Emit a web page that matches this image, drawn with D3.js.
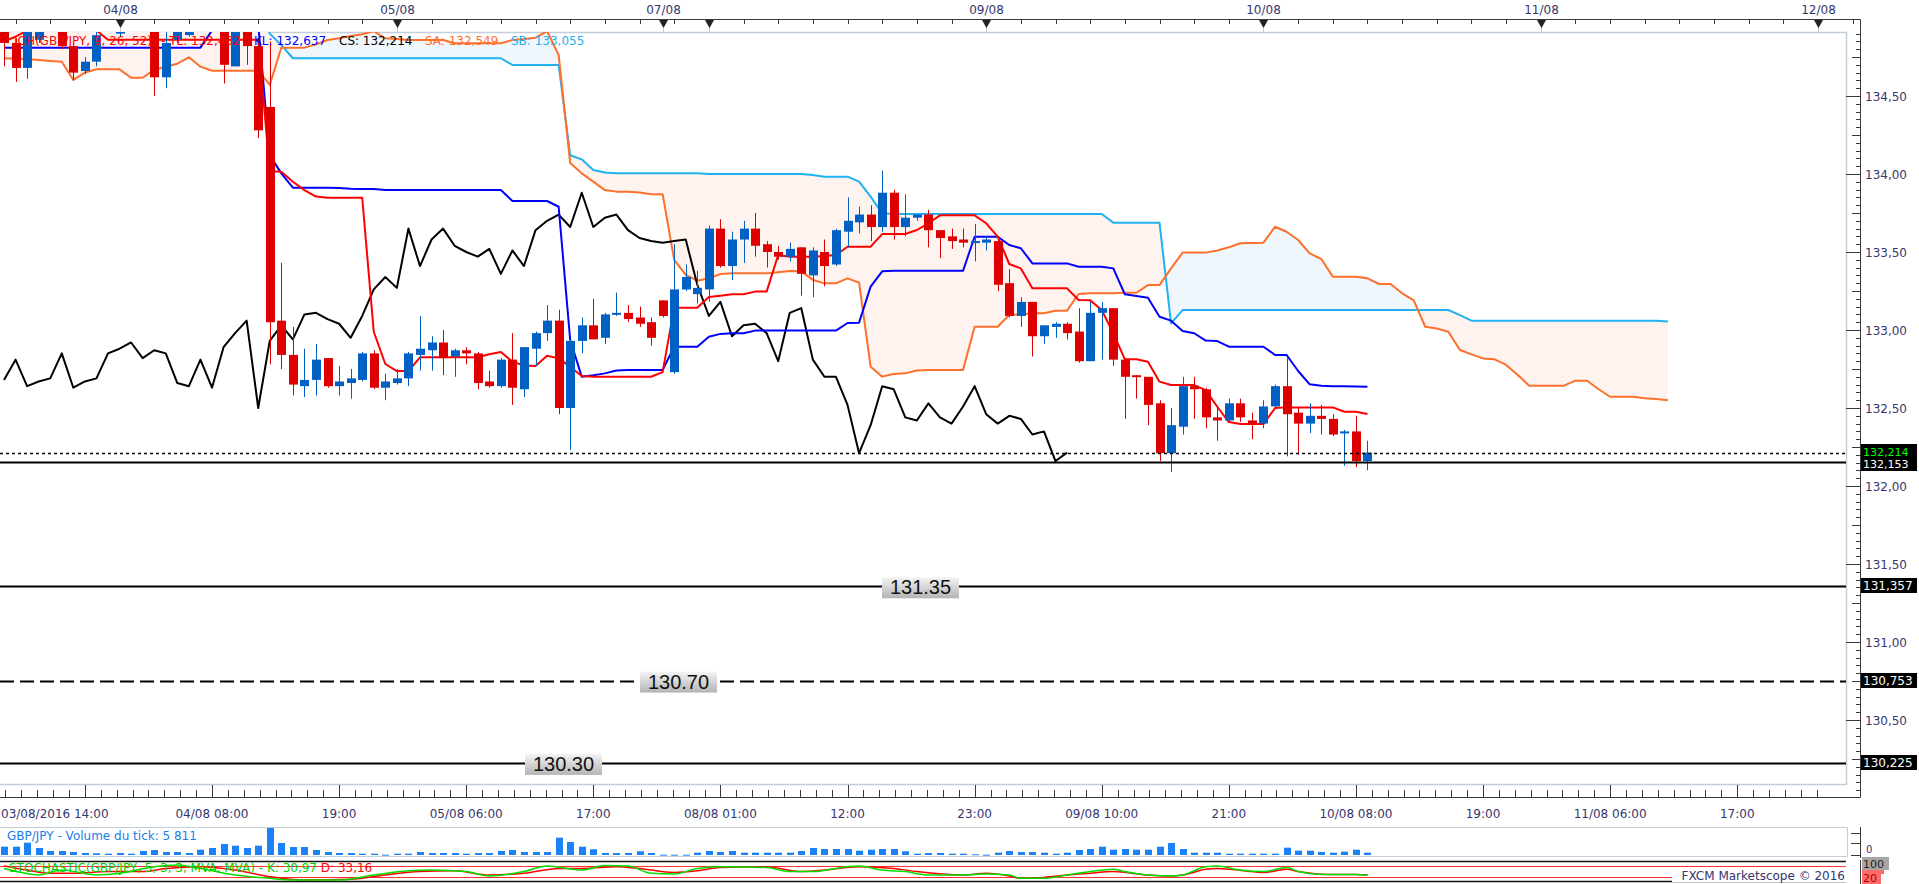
<!DOCTYPE html>
<html>
<head>
<meta charset="utf-8">
<script src="https://cdn.jsdelivr.net/npm/d3@7"></script>
<style>
  body { margin: 0; background: #fff; overflow: hidden; }
  svg { display: block; font-family: "DejaVu Sans", Verdana, sans-serif; }
</style>
</head>
<body>
<svg></svg>
<script>
// ---------- data (hourly GBP/JPY, bar index 0 = 03/08/2016 14:00) ----------
const opens = [134.95,134.84,134.68,134.86,134.95,134.96,134.82,134.66,134.72,134.93,134.90,134.96,134.99,134.97,134.62,134.86,134.89,134.95,134.98,134.94,
  134.69,134.93,134.82,134.43,133.06,132.84,132.64,132.68,132.82,132.64,132.66,132.68,132.85,132.63,132.66,132.69,132.84,132.87,132.92,132.83,
  132.87,132.85,132.67,132.64,132.81,132.62,132.88,132.98,133.06,132.50,132.93,133.03,132.95,133.10,133.11,133.08,133.05,133.19,132.73,133.26,
  133.23,133.26,133.65,133.41,133.58,133.65,133.55,133.50,133.47,133.53,133.35,133.50,133.42,133.63,133.69,133.74,133.66,133.88,133.66,133.72,
  133.74,133.64,133.60,133.58,133.56,133.56,133.57,133.30,133.09,133.18,132.96,133.02,133.04,132.99,132.80,133.11,133.14,132.81,132.71,132.70,
  132.53,132.21,132.38,132.64,132.62,132.44,132.42,132.53,132.42,132.40,132.51,132.64,132.47,132.40,132.45,132.43,132.34,132.35,132.16];
const highs = [135.00,134.87,134.96,134.98,135.05,134.99,134.83,134.75,134.93,135.00,134.97,135.02,135.03,135.00,134.92,134.98,134.97,135.01,135.02,134.96,
  134.95,134.95,134.85,134.85,133.43,133.02,132.88,132.91,132.82,132.77,132.75,132.86,132.87,132.72,132.75,132.86,133.09,132.96,133.00,132.88,
  132.89,132.86,132.74,132.82,132.98,132.89,132.99,133.16,133.13,132.94,133.08,133.20,133.11,133.24,133.16,133.15,133.08,133.19,133.55,133.42,
  133.38,133.67,133.71,133.63,133.70,133.75,133.57,133.54,133.56,133.53,133.53,133.58,133.65,133.85,133.79,133.80,134.02,133.90,133.87,133.74,
  133.77,133.64,133.65,133.65,133.68,133.60,133.58,133.39,133.21,133.18,133.03,133.05,133.05,133.14,133.18,133.18,133.14,132.82,132.71,132.70,
  132.55,132.50,132.70,132.70,132.63,132.51,132.56,132.56,132.47,132.55,132.65,132.82,132.50,132.53,132.52,132.46,132.36,132.45,132.29];
const lows = [134.69,134.59,134.61,134.84,134.92,134.80,134.60,134.64,134.69,134.92,134.88,134.93,134.93,134.50,134.55,134.84,134.88,134.92,134.92,134.58,
  134.69,134.70,134.23,132.78,132.75,132.58,132.57,132.58,132.63,132.58,132.56,132.67,132.62,132.55,132.65,132.64,132.74,132.74,132.71,132.70,
  132.78,132.62,132.63,132.63,132.52,132.57,132.77,132.93,132.46,132.23,132.85,132.94,132.91,133.09,133.05,133.02,132.90,133.08,132.72,133.25,
  133.17,133.18,133.40,133.32,133.43,133.47,133.40,133.45,133.44,133.22,133.21,133.28,133.41,133.53,133.62,133.57,133.63,133.58,133.60,133.70,
  133.53,133.46,133.52,133.53,133.44,133.51,133.25,133.08,133.02,132.83,132.91,132.95,132.94,132.79,132.80,132.81,132.77,132.43,132.56,132.39,
  132.16,132.09,132.33,132.43,132.37,132.29,132.41,132.41,132.30,132.37,132.50,132.19,132.20,132.34,132.33,132.32,132.13,132.12,132.10];
const closes = [134.84,134.68,134.93,134.95,135.00,134.82,134.65,134.72,134.89,134.98,134.96,134.99,134.97,134.62,134.84,134.95,134.95,134.98,134.94,134.70,
  134.93,134.82,134.28,133.05,132.84,132.65,132.68,132.81,132.64,132.67,132.69,132.85,132.63,132.67,132.69,132.85,132.88,132.92,132.82,132.87,
  132.85,132.66,132.64,132.81,132.63,132.89,132.98,133.06,132.50,132.93,133.03,132.94,133.10,133.11,133.07,133.04,132.95,133.09,133.26,133.34,
  133.27,133.65,133.41,133.58,133.65,133.54,133.50,133.47,133.52,133.36,133.51,133.41,133.64,133.70,133.74,133.66,133.88,133.66,133.72,133.74,
  133.64,133.59,133.57,133.56,133.57,133.58,133.29,133.09,133.18,132.96,133.03,133.04,132.98,132.80,133.11,133.14,132.81,132.70,132.70,132.52,
  132.21,132.39,132.64,132.62,132.44,132.42,132.53,132.44,132.40,132.51,132.64,132.46,132.40,132.45,132.43,132.33,132.35,132.16,132.214];

const tenkan = [134.85,134.88,134.92,134.93,134.96,134.98,135.00,134.95,134.92,
  134.86,134.86,134.86,134.86,134.86,134.86,134.86,134.86,134.86,134.86,134.86,134.86,134.86,134.86,
  134.02,134.015,133.95,133.897,133.855,133.848,133.848,133.848,133.848,
  132.989,132.782,132.737,132.737,
  132.825,132.825,132.825,132.825,132.825,132.825,
  132.844,132.859,132.797,132.772,132.769,132.835,132.818,132.765,
  132.705,132.70,132.70,132.70,132.70,132.70,132.70,132.73,
  133.143,133.143,133.143,133.212,133.22,133.229,133.229,133.246,133.246,
  133.481,133.47,133.47,133.47,133.475,133.481,
  133.534,133.534,133.534,133.615,133.615,133.615,133.641,133.684,
  133.735,133.735,133.735,133.735,133.684,133.598,133.423,133.395,
  133.267,133.267,133.267,133.267,133.192,133.19,133.128,132.979,
  132.812,132.812,132.797,132.669,132.647,132.647,132.647,132.615,
  132.508,132.41,132.397,132.397,132.397,132.50,132.504,132.504,
  132.504,132.504,132.504,132.476,132.476,132.462];

const kijun = [134.81,134.81,134.81,134.81,134.81,134.81,134.81,134.81,134.81,134.81,134.81,134.81,134.81,134.81,134.81,134.81,134.81,134.81,
  134.92,134.96,134.96,134.96,134.96,
  134.12,134.004,133.912,133.912,133.912,133.912,133.91,133.906,133.904,133.904,
  133.897,133.897,133.897,133.897,133.897,133.897,133.897,133.897,133.897,133.897,133.897,
  133.827,133.827,133.827,133.827,133.79,
  132.936,132.701,132.71,132.722,132.74,132.744,132.744,132.744,132.744,
  132.893,132.893,132.893,132.957,132.975,132.979,132.979,132.996,
  132.996,132.996,132.996,132.996,132.996,132.996,132.996,
  133.045,133.047,133.278,133.376,
  133.38,133.38,133.38,133.38,133.38,133.38,133.38,
  133.598,133.598,133.598,133.545,133.524,
  133.427,133.427,133.427,133.427,133.406,133.406,133.406,133.395,
  133.229,133.218,133.207,133.085,133.06,132.994,132.979,132.932,132.929,
  132.893,132.893,132.893,132.893,132.84,132.84,132.737,132.652,
  132.643,132.64,132.64,132.638,132.637];

const senkouA = [134.742,134.738,134.735,134.73,134.725,134.72,134.603,134.65,134.671,134.671,134.671,134.617,134.617,134.667,134.688,134.707,134.748,134.688,134.662,134.662,134.662,134.662,134.662,134.571,
  134.81,134.81,134.81,134.831,134.859,134.87,134.885,134.896,134.915,134.87,134.865,134.859,134.859,134.859,134.859,134.838,134.838,134.838,134.838,134.838,134.859,134.865,134.874,134.915,134.763,
  134.07,134.004,133.951,133.897,133.887,133.887,133.882,133.87,133.87,133.449,133.353,133.316,133.331,133.359,133.363,133.363,133.363,133.363,133.37,133.378,133.376,133.321,133.299,133.299,133.331,133.304,
  132.765,132.701,132.718,132.722,132.74,132.744,132.744,132.744,132.744,133.021,133.021,133.021,133.096,133.10,133.107,133.107,133.124,133.124,133.231,133.235,133.235,133.235,133.239,133.239,133.288,133.288,
  133.395,133.496,133.496,133.496,133.51,133.53,133.556,133.558,133.56,133.662,133.63,133.577,133.491,133.455,133.342,133.342,133.342,133.331,133.295,133.295,133.235,133.19,
  133.021,133.01,132.989,132.872,132.844,132.818,132.812,132.776,132.712,132.643,132.643,132.643,132.643,132.675,132.675,132.62,132.572,132.572,132.572,132.562,132.558,132.549];

const senkouB = [135.10,135.10,135.10,135.10,135.10,135.10,135.10,135.10,135.10,135.10,135.10,135.10,135.10,135.10,135.10,135.10,135.10,135.10,135.10,135.10,135.10,135.10,135.10,
  134.90,134.827,
  134.742,134.742,134.742,134.742,134.742,134.742,134.742,134.742,134.742,134.742,134.742,134.742,134.742,134.742,134.742,134.742,134.742,134.742,134.742,
  134.699,134.699,134.699,134.699,134.699,
  134.12,134.094,134.026,134.009,
  134.005,134.005,134.005,134.005,134.005,134.005,134.005,134.005,
  134.0,134.0,134.0,134.0,134.0,134.0,134.0,134.0,134.0,
  133.994,133.983,133.983,133.983,133.951,133.855,133.748,
  133.744,133.744,133.744,133.744,133.744,133.744,133.744,133.744,133.744,133.744,133.744,133.744,133.744,133.744,133.744,133.744,133.744,133.744,133.744,
  133.688,133.688,133.688,133.688,133.688,
  133.043,
  133.128,133.128,133.128,133.128,133.128,133.128,133.128,133.128,133.128,133.128,133.128,133.128,133.128,133.128,133.128,133.128,133.128,133.128,133.128,133.128,133.128,133.128,133.128,133.128,
  133.095,
  133.06,133.06,133.06,133.06,133.06,133.06,133.06,133.06,133.06,133.06,133.06,133.06,133.06,133.06,133.06,133.06,133.06,133.055];

// tick volume, thousands
const volumes = [20.8,20.8,30.8,17.5,10,10,7.5,5,4.3,3.3,5,3.3,10,12.5,7.5,7.5,5,13.3,17.5,27.5,
  23.3,17.5,23.3,67.5,30,20,20,12.5,7.5,5,5,3.3,3.3,0.8,3.3,3.3,7.5,5,5,5,
  3.3,5,5,10,12.5,7.5,7.5,7.5,43.3,32.5,20.8,14.3,5,5,5,9.3,5,0.8,0.8,0.8,
  5.8,10,7.5,10,5.8,5.8,5.8,5.8,5.8,10,17.5,15,15,15,10.8,13.3,15,15,9.3,3.3,
  5,5,3.3,3.3,1.8,0.8,5.8,10,7.5,7.5,5.8,3.3,5.8,12.5,15,20.8,13.3,15,13.3,13.3,
  20.8,30,15,5.8,5.8,5.8,3.3,3.3,3.3,3.3,3.3,18.3,10.8,10.8,7.5,5.8,8.3,13.3,5.811];

// stochastic [bar index, value]
const stochK = [[0,67],[2,40],[3,32],[5,58],[8,32],[10,41],[13,76],[15,85],[17,67],[20,32],[23,14],[25,5],[29,5],[32,32],[35,54],[37,58],[40,50],[42,27],[45,50],[47,80],
  [50,58],[52,82],[54,80],[56,41],[58,37],[60,67],[62,76],[66,72],[68,50],[70,50],[73,76],[74,80],[76,58],[78,50],[80,32],[83,32],[85,37],[87,32],[88,14],[90,14],
  [92,32],[94,50],[96,63],[97,50],[99,32],[101,27],[102,32],[104,76],[105,80],[107,58],[109,50],[111,72],[112,50],[114,35],[117,35],[118,30.97]];
const stochD = [[0,80],[2,58],[4,41],[6,41],[9,50],[12,50],[14,67],[17,76],[20,58],[23,23],[26,5],[30,9],[33,32],[36,50],[39,54],[42,32],[45,41],[48,67],[50,67],[53,76],
  [55,67],[58,45],[60,54],[62,72],[66,76],[69,50],[71,58],[74,76],[77,67],[79,50],[83,32],[85,41],[87,27],[88,14],[90,19],[92,32],[94,41],[96,50],[99,32],[101,27],
  [102,32],[104,62],[105,67],[108,50],[109,45],[111,62],[112,50],[114,36],[117,34],[118,33.16]];

const levelValues = [132.214, 132.153, 131.357, 130.753, 130.225];
const levelTags = [null, null, "131.35", "130.70", "130.30"];

const dayIdx = [10, 34, 57, 61, 85, 109, 133, 157];
const dayLabels = ["04/08", "05/08", "07/08", "", "09/08", "10/08", "11/08", "12/08"];
const timeIdx = [0, 18, 29, 40, 51, 62, 73, 84, 95, 106, 117, 128, 139, 150];
const timeLabels = ["03/08/2016 14:00", "04/08 08:00", "19:00", "05/08 06:00", "17:00", "08/08 01:00", "12:00",
  "23:00", "09/08 10:00", "21:00", "10/08 08:00", "19:00", "11/08 06:00", "17:00"];

// ---------- layout ----------
const W = 1919, H = 884;
const plotR = 1846, plotT = 32, plotB = 784, axisR = 1860;
const levelDash = ["3,3", null, null, "14,6", null];
const levelWidth = [1.5, 2, 2, 2, 2];
const tagX = [0, 0, 882, 640, 525];
const txtColor = "#36366e";

const svg = d3.select("svg").attr("width", W).attr("height", H);

const x = d3.scaleLinear().domain([0, 100]).range([4, 1159.5]);
const y = d3.scaleLinear().domain([133, 134]).range([330, 174]);
const yVol = d3.scaleLinear().domain([0, 67.5]).range([855, 828]);
const yStoch = d3.scaleLinear().domain([0, 100]).range([881, 862.2]);

const defs = svg.append("defs");
defs.append("clipPath").attr("id", "plot-clip")
  .append("rect").attr("x", 0).attr("y", plotT).attr("width", plotR).attr("height", plotB - plotT);
const grad = defs.append("linearGradient").attr("id", "tag-grad").attr("x1", 0).attr("y1", 0).attr("x2", 0).attr("y2", 1);
grad.append("stop").attr("offset", "0%").attr("stop-color", "#f4f4f4");
grad.append("stop").attr("offset", "100%").attr("stop-color", "#b4b4b4");

// ---------- frames ----------
svg.append("path")
  .attr("d", `M0,${plotT + 0.5}H${plotR + 0.5}V${plotB + 0.5}H0`)
  .attr("fill", "none").attr("stroke", "#c3cedb").attr("stroke-width", 1.5);

// top axis
svg.append("path").attr("d", `M0,19.5H${axisR + 0.5}V797.5H0`)
  .attr("fill", "none").attr("stroke", "#3a3a3a").attr("stroke-width", 1);

const topTicks = d3.range(1, 161, 3).filter(i => x(i) < axisR - 2);
svg.append("g").selectAll("line").data(topTicks).join("line")
  .attr("x1", d => Math.round(x(d)) + 0.5).attr("x2", d => Math.round(x(d)) + 0.5)
  .attr("y1", 19.5).attr("y2", 24).attr("stroke", "#3a3a3a");

const days = svg.append("g");
dayIdx.forEach((d, k) => {
  const cx = Math.round(x(d)) + 0.5;
  days.append("line").attr("x1", cx).attr("x2", cx).attr("y1", 27).attr("y2", plotT)
    .attr("stroke", "#c3cedb");
  days.append("path").attr("d", `M${cx - 4.5},20L${cx + 4.5},20L${cx},28Z`).attr("fill", "#222");
  if (dayLabels[k]) {
    days.append("text").attr("x", cx).attr("y", 14).attr("text-anchor", "middle")
      .attr("font-size", 12).attr("fill", txtColor).text(dayLabels[k]);
  }
});

// right price axis
const priceTicks = d3.range(2601, 2699).map(k => ({ k, v: k / 20 }));
const rAxis = svg.append("g");
rAxis.selectAll("line").data(priceTicks).join("line")
  .attr("x1", d => d.k % 10 === 0 ? plotR : (d.k % 5 === 0 ? axisR - 8 : axisR - 4))
  .attr("x2", axisR)
  .attr("y1", d => Math.round(y(d.v)) + 0.5).attr("y2", d => Math.round(y(d.v)) + 0.5)
  .attr("stroke", "#3a3a3a");
rAxis.selectAll("text").data(priceTicks.filter(d => d.k % 10 === 0)).join("text")
  .attr("x", 1865).attr("y", d => y(d.v) + 4.5)
  .attr("font-size", 12).attr("fill", txtColor)
  .text(d => d3.format(".2f")(d.v).replace(".", ","));

// bottom time axis
const bTicks = d3.range(-5, 110).map(k => ({ k, i: 7 + k * 11 / 8 })).filter(d => x(d.i) >= 0 && x(d.i) <= plotR + 6);
svg.append("g").selectAll("line").data(bTicks).join("line")
  .attr("x1", d => Math.round(x(d.i)) + 0.5).attr("x2", d => Math.round(x(d.i)) + 0.5)
  .attr("y1", d => d.k % 8 === 0 ? plotB + 1 : 790).attr("y2", 797)
  .attr("stroke", "#3a3a3a");
svg.append("g").selectAll("text").data(timeIdx).join("text")
  .attr("x", (d, k) => k === 0 ? 1 : x(d))
  .attr("y", 817.5)
  .attr("text-anchor", (d, k) => k === 0 ? "start" : "middle")
  .attr("font-size", 12).attr("fill", txtColor)
  .text((d, k) => timeLabels[k]);

// ---------- main plot ----------
const main = svg.append("g").attr("clip-path", "url(#plot-clip)");

const cloud = senkouA.map((a, i) => ({ i, a, b: senkouB[i] }));
defs.append("clipPath").attr("id", "above-a").append("path")
  .attr("d", d3.area().x(d => x(d.i)).y0(d => y(d.a)).y1(0)(cloud));
defs.append("clipPath").attr("id", "below-a").append("path")
  .attr("d", d3.area().x(d => x(d.i)).y0(d => y(d.a)).y1(H)(cloud));
const between = d3.area().x(d => x(d.i)).y0(d => y(d.a)).y1(d => y(d.b));
main.append("path").attr("d", between(cloud)).attr("fill", "#fff3ef").attr("clip-path", "url(#above-a)");
main.append("path").attr("d", between(cloud)).attr("fill", "#eff7fc").attr("clip-path", "url(#below-a)");

const line = d3.line().x((d, i) => x(i)).y(d => y(d));
const drawLine = (vals, color) => main.append("path").attr("d", line(vals))
  .attr("fill", "none").attr("stroke", color).attr("stroke-width", 2).attr("stroke-linejoin", "round");

drawLine(senkouB, "#1fb2ee");
drawLine(senkouA, "#ff6f2c");
drawLine(closes.slice(26), "#000000");   // chikou span: close shifted back 26 bars
drawLine(kijun, "#0000ff");
drawLine(tenkan, "#ff0000");

// candles
const bars = closes.map((c, i) => ({ i, o: opens[i], h: highs[i], l: lows[i], c }));
const cg = main.append("g").selectAll("g").data(bars).join("g")
  .attr("fill", d => d.c >= d.o ? "#0060c4" : "#de0000")
  .attr("stroke", d => d.c >= d.o ? "#0060c4" : "#de0000");
cg.append("line")
  .attr("x1", d => Math.round(x(d.i)) + 0.5).attr("x2", d => Math.round(x(d.i)) + 0.5)
  .attr("y1", d => y(d.h)).attr("y2", d => y(d.l)).attr("stroke-width", 1);
cg.append("rect")
  .attr("x", d => Math.round(x(d.i)) - 4).attr("width", 9)
  .attr("y", d => y(Math.max(d.o, d.c)))
  .attr("height", d => Math.max(2, y(Math.min(d.o, d.c)) - y(Math.max(d.o, d.c))))
  .attr("stroke", "none");

// horizontal levels
levelValues.forEach((v, k) => {
  main.append("line").attr("x1", 0).attr("x2", plotR)
    .attr("y1", Math.round(y(v)) + 0.5).attr("y2", Math.round(y(v)) + 0.5)
    .attr("stroke", "#000").attr("stroke-width", levelWidth[k])
    .attr("stroke-dasharray", levelDash[k]);
});
levelValues.forEach((v, k) => {
  if (!levelTags[k]) return;
  const yy = y(v);
  svg.append("rect").attr("x", tagX[k]).attr("y", yy - 9).attr("width", 77).attr("height", 21)
    .attr("fill", "url(#tag-grad)");
  svg.append("text").attr("x", tagX[k] + 38.5).attr("y", yy + 8).attr("text-anchor", "middle")
    .attr("font-family", "'Liberation Sans', Arial, sans-serif").attr("font-size", 20)
    .attr("fill", "#111").text(levelTags[k]);
});

// right value boxes (lowest first so the current price sits on top)
[4, 3, 2, 1, 0].forEach(k => {
  const yy = y(levelValues[k]);
  const dy = k === 1 ? 2 : (k === 0 ? -1 : 0);
  svg.append("rect").attr("x", 1861).attr("y", Math.round(yy) - 8 + dy).attr("width", 56).attr("height", 15).attr("fill", "#000");
  svg.append("text").attr("x", 1863).attr("y", yy + 4 + dy).attr("font-size", k < 2 ? 11 : 12)
    .attr("fill", k === 0 ? "#00ff00" : "#fff")
    .text(d3.format(".3f")(levelValues[k]).replace(".", ","));
});

// legend
const legend = [
  ["ICH(GBP/JPY, 9, 26, 52)", 14, "#ff0000"],
  ["- TL: " + d3.format(".3f")(tenkan[tenkan.length - 1]).replace(".", ","), 161, "#ff0000"],
  ["KL: " + d3.format(".3f")(kijun[kijun.length - 1]).replace(".", ","), 254, "#0000ff"],
  ["CS: " + d3.format(".3f")(closes[closes.length - 1]).replace(".", ","), 339, "#000000"],
  ["SA: " + d3.format(".3f")(senkouA[senkouA.length - 1]).replace(".", ","), 425, "#ff6f2c"],
  ["SB: " + d3.format(".3f")(senkouB[senkouB.length - 1]).replace(".", ","), 511, "#1fb2ee"]
];
svg.append("g").selectAll("text").data(legend).join("text")
  .attr("x", d => d[1]).attr("y", 44.5).attr("font-size", 12).attr("fill", d => d[2]).text(d => d[0]);

// ---------- volume panel ----------
svg.append("path").attr("d", `M0,827.5H${plotR + 1.5}V856.5H0`).attr("fill", "none").attr("stroke", "#c3cedb");
svg.append("line").attr("x1", axisR + 0.5).attr("x2", axisR + 0.5).attr("y1", 827).attr("y2", 858).attr("stroke", "#3a3a3a");
[833, 843, 855].forEach(t => svg.append("line").attr("x1", axisR - 9).attr("x2", axisR).attr("y1", t + 0.5).attr("y2", t + 0.5).attr("stroke", "#3a3a3a"));
svg.append("text").attr("x", 1866).attr("y", 853).attr("font-size", 10).attr("fill", txtColor).text("0");
svg.append("g").selectAll("rect").data(volumes).join("rect")
  .attr("x", (d, i) => Math.round(x(i)) - 3).attr("width", 7)
  .attr("y", d => yVol(d)).attr("height", d => Math.max(1, 855 - yVol(d)))
  .attr("fill", "#1a82f5");
svg.append("text").attr("x", 7).attr("y", 839.5).attr("font-size", 12).attr("fill", "#1a7ee8")
  .text("GBP/JPY - Volume du tick: " + d3.format(",")(Math.round(volumes[volumes.length - 1] * 1000)).replace(",", " "));

// ---------- stochastic panel ----------
svg.append("line").attr("x1", 0).attr("x2", plotR).attr("y1", 861.5).attr("y2", 861.5).attr("stroke", "#111").attr("stroke-width", 1.5);
[80, 20].forEach(v => svg.append("line").attr("x1", 0).attr("x2", plotR)
  .attr("y1", Math.round(yStoch(v)) + 0.5).attr("y2", Math.round(yStoch(v)) + 0.5).attr("stroke", "#ff3030"));
svg.append("line").attr("x1", 0).attr("x2", plotR).attr("y1", 881.5).attr("y2", 881.5).attr("stroke", "#111").attr("stroke-width", 1.5);
const sLine = d3.line().x(d => x(d[0])).y(d => yStoch(d[1])).curve(d3.curveMonotoneX);
svg.append("path").attr("d", sLine(stochD)).attr("fill", "none").attr("stroke", "#ff0000").attr("stroke-width", 1.5);
svg.append("path").attr("d", sLine(stochK)).attr("fill", "none").attr("stroke", "#00e000").attr("stroke-width", 1.5);
const st = svg.append("text").attr("x", 9).attr("y", 872).attr("font-size", 12);
st.append("tspan").attr("fill", "#00d000")
  .text("STOCHASTIC(GBP/JPY, 5, 3, 3, MVA, MVA) -  K: " + d3.format(".2f")(stochK[stochK.length - 1][1]).replace(".", ",") + "  ");
st.append("tspan").attr("fill", "#ff0000")
  .text("D: " + d3.format(".2f")(stochD[stochD.length - 1][1]).replace(".", ","));

svg.append("rect").attr("x", 1672).attr("y", 868).attr("width", 174).attr("height", 14).attr("fill", "#fff");
svg.append("text").attr("x", 1845).attr("y", 879.5).attr("text-anchor", "end").attr("font-size", 12)
  .attr("fill", txtColor).text("FXCM Marketscope © 2016");

svg.append("line").attr("x1", axisR + 0.5).attr("x2", axisR + 0.5).attr("y1", 860).attr("y2", 884).attr("stroke", "#3a3a3a");
svg.append("rect").attr("x", 1862).attr("y", 864).attr("width", 22).attr("height", 10).attr("fill", "#ff6a6a");
svg.append("rect").attr("x", 1862).attr("y", 857).attr("width", 27).attr("height", 13).attr("fill", "#a6a6a6");
svg.append("text").attr("x", 1863).attr("y", 867.5).attr("font-size", 11).attr("fill", "#222").text("100");
svg.append("rect").attr("x", 1862).attr("y", 871).attr("width", 19).attr("height", 13).attr("fill", "#ff6a6a");
svg.append("text").attr("x", 1863).attr("y", 882).attr("font-size", 11).attr("fill", "#b00000").text("20");
</script>
</body>
</html>
